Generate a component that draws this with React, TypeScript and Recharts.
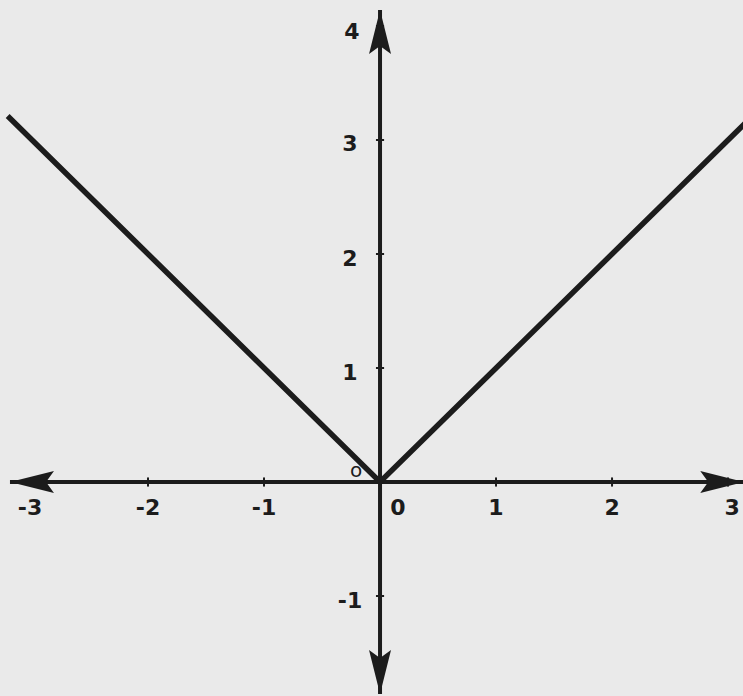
import { LineChart, Line, XAxis, YAxis, ReferenceLine, ReferenceDot } from "recharts";

// y = |x| sampled at the ends and the vertex
const curve = [
  { x: -3.21, y: 3.21 },
  { x: 0, y: 0 },
  { x: 3.15, y: 3.15 },
];

const xTicks = [-3, -2, -1, 0, 1, 2, 3];
const yTicks = [4, 3, 2, 1, -1];

// axis extents (arrow tips)
const xAxisEnds = [-3.19, 3.14];
const yAxisEnds = [-1.86, 4.14];

const X_DOMAIN: [number, number] = [-3.276, 3.129];
const Y_DOMAIN: [number, number] = [-1.877, 4.228];

const INK = "#1c1c1c";

function arrowLine(props: any) {
  const { x1, y1, x2, y2 } = props;
  const dx = x2 - x1;
  const dy = y2 - y1;
  const len = Math.hypot(dx, dy) || 1;
  const ux = dx / len;
  const uy = dy / len;
  const head = 44;
  const half = 11;
  const tri = (tx: number, ty: number, dirx: number, diry: number) => {
    const bx = tx - dirx * head;
    const by = ty - diry * head;
    const nx = tx - dirx * head * 0.82;
    const ny = ty - diry * head * 0.82;
    return `${tx},${ty} ${bx - diry * half},${by + dirx * half} ${nx},${ny} ${bx + diry * half},${by - dirx * half}`;
  };
  return (
    <g>
      <line x1={x1} y1={y1} x2={x2} y2={y2} stroke={INK} strokeWidth={4} />
      <polygon points={tri(x2, y2, ux, uy)} fill={INK} />
      <polygon points={tri(x1, y1, -ux, -uy)} fill={INK} />
    </g>
  );
}

const tickLabel = (text: string, dx: number, dy: number, size = 22, weight = 700) => (p: any) => {
  const vb = p.viewBox || {};
  const cx = (vb.x ?? 0) + (vb.width ?? 0) / 2;
  const cy = (vb.y ?? 0) + (vb.height ?? 0) / 2;
  return (
    <text
      x={cx + dx}
      y={cy + dy}
      textAnchor="middle"
      dominantBaseline="central"
      fontFamily="DejaVu Sans, sans-serif"
      fontWeight={weight}
      fontSize={size}
      fill={INK}
    >
      {text}
    </text>
  );
};

const xLabelShift = (t: number) => (t === 0 ? 18 : t === -3 ? -2 : t === 3 ? 4 : 0);

export default function App() {
  return (
    <div style={{ position: "absolute", left: 0, top: 0, width: 743, height: 696, background: "#eaeaea" }}>
      <LineChart width={743} height={696} data={curve} margin={{ top: 0, right: 0, bottom: 0, left: 0 }}>
        <XAxis type="number" dataKey="x" domain={X_DOMAIN} allowDataOverflow hide />
        <YAxis type="number" domain={Y_DOMAIN} allowDataOverflow hide />

        <ReferenceLine
          segment={[{ x: xAxisEnds[0], y: 0 }, { x: xAxisEnds[1], y: 0 }]}
          shape={arrowLine}
          ifOverflow="visible"
        />
        <ReferenceLine
          segment={[{ x: 0, y: yAxisEnds[0] }, { x: 0, y: yAxisEnds[1] }]}
          shape={arrowLine}
          ifOverflow="visible"
        />

        {xTicks.map((t) => (
          <ReferenceLine
            key={`xt${t}`}
            segment={[{ x: t, y: -0.04 }, { x: t, y: 0.04 }]}
            stroke={INK}
            strokeWidth={2}
          />
        ))}
        {yTicks.map((t) => (
          <ReferenceLine
            key={`yt${t}`}
            segment={[{ x: -0.035, y: t }, { x: 0.035, y: t }]}
            stroke={INK}
            strokeWidth={2}
          />
        ))}

        <Line
          type="linear"
          dataKey="y"
          stroke={INK}
          strokeWidth={5.5}
          dot={false}
          activeDot={false}
          isAnimationActive={false}
        />

        {xTicks.map((t) => (
          <ReferenceDot
            key={`xl${t}`}
            x={t}
            y={0}
            r={0}
            fill="none"
            stroke="none"
            ifOverflow="visible"
            label={tickLabel(String(t), xLabelShift(t), 25)}
          />
        ))}
        {yTicks.map((t) => (
          <ReferenceDot
            key={`yl${t}`}
            x={0}
            y={t}
            r={0}
            fill="none"
            stroke="none"
            ifOverflow="visible"
            label={tickLabel(String(t), t === 4 ? -28 : -30, t === 4 ? 6 : 4)}
          />
        ))}
        <ReferenceDot
          x={0}
          y={0}
          r={0}
          fill="none"
          stroke="none"
          label={tickLabel("o", -24, -12, 20, 400)}
        />
      </LineChart>
    </div>
  );
}
